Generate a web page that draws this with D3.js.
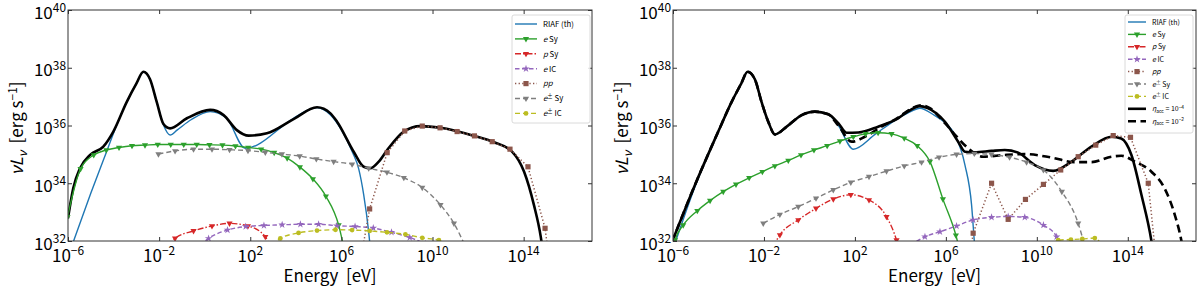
<!DOCTYPE html>
<html>
<head>
<meta charset="utf-8">
<script src="https://cdn.jsdelivr.net/npm/d3@7"></script>
<style>
  body { margin: 0; background: #fff; }
  svg { display: block; }
  text { font-family: "Noto Sans CJK JP", "DejaVu Sans", sans-serif; fill: #000; }
</style>
</head>
<body>
<svg id="fig" width="1200" height="288"></svg>
<script>
// tick exponents
const xTicks = [-6, -2, 2, 6, 10, 14];
const yTicks = [32, 34, 36, 38, 40];

// every series: [log10 E (eV), log10 nuL_nu (erg/s)]
// ---- left panel
const riafL = [[-5.8,31.9],[-5.0,33.65],[-4.4,34.9],[-3.86,36.02],[-3.42,36.82],[-3.0,37.45],[-2.69,37.86],[-2.4,37.6],[-2.1,36.8],[-1.8,36.0],[-1.52,35.67],[-1.2,35.85],[-0.6,36.2],[0.24,36.48],[0.96,36.25],[1.78,35.21],[3.9,36.25],[4.5,36.52],[4.93,36.62],[5.5,36.38],[6.0,35.85],[6.5,35.05],[6.76,34.5],[6.98,33.6],[7.2,32.3],[7.3,31.5]];
const totalL = [[-6.0,32.79],[-5.77,33.83],[-5.47,34.52],[-5.03,34.98],[-4.45,35.27],[-4.01,35.79],[-3.42,36.82],[-3.0,37.45],[-2.69,37.86],[-2.4,37.6],[-2.1,36.8],[-1.81,36.05],[-1.52,35.9],[-0.78,36.25],[0.24,36.54],[0.83,36.36],[1.41,35.84],[1.93,35.65],[2.73,35.73],[3.9,36.22],[4.93,36.63],[5.52,36.42],[5.81,36.13],[6.54,35.09],[6.98,34.57],[7.27,34.52],[7.64,34.75],[8.01,35.15],[8.74,35.79],[9.47,35.98],[10.35,35.92],[11.82,35.64],[12.7,35.42],[13.5,35.09],[14.02,34.4],[14.45,33.25],[14.75,32.15],[14.85,31.6]];
const eSyL = [[-6.02,32.84],[-5.45,34.5],[-4.87,34.98],[-4.32,35.15],[-3.76,35.24],[-3.19,35.3],[-2.62,35.32],[-2.06,35.34],[-1.49,35.34],[-0.92,35.34],[-0.35,35.34],[0.21,35.33],[0.78,35.32],[1.35,35.29],[1.91,35.24],[2.48,35.18],[3.05,35.06],[3.62,34.87],[4.18,34.56],[4.75,34.15],[5.32,33.55],[5.88,32.55],[6.1,31.8]];
const pSyL = [[-1.55,31.8],[-1.3,32.09],[-0.49,32.35],[0.32,32.52],[1.09,32.61],[1.9,32.52],[2.66,32.15],[2.85,31.8]];
const eICL = [[-0.2,31.85],[0.17,32.09],[1.0,32.38],[1.8,32.5],[2.6,32.54],[3.4,32.56],[4.2,32.58],[5.0,32.58],[5.8,32.53],[6.6,32.5],[7.4,32.45],[8.2,32.3],[9.0,32.12],[9.7,31.9]];
const ppL = [[6.9,31.6],[7.24,33.11],[8.01,35.06],[8.78,35.81],[9.55,35.98],[10.33,35.92],[11.08,35.79],[11.84,35.64],[12.62,35.44],[13.4,35.18],[14.19,34.57],[14.94,32.44],[15.08,31.6]];
const pairSyL = [[-2.03,35.01],[-1.3,35.12],[-0.49,35.18],[0.32,35.18],[1.09,35.16],[1.9,35.13],[2.66,35.07],[3.39,35.01],[4.17,34.94],[4.9,34.84],[5.66,34.75],[6.47,34.66],[7.2,34.52],[8.0,34.38],[8.74,34.19],[9.55,33.85],[10.35,33.25],[10.94,32.61],[11.45,31.8]];
const pairICL = [[2.95,31.85],[3.32,32.09],[4.12,32.28],[4.93,32.36],[5.74,32.39],[6.47,32.38],[7.24,32.35],[8.0,32.3],[8.81,32.23],[9.55,32.11],[10.28,32.03],[10.5,31.85]];

// ---- right panel
const riafR = [[-5.92,31.9],[-5.0,33.95],[-4.01,35.79],[-3.42,36.82],[-3.0,37.45],[-2.72,37.86],[-2.4,37.6],[-2.1,36.8],[-1.81,36.13],[-1.52,35.69],[-1.0,35.96],[-0.34,36.36],[0.24,36.48],[0.83,36.39],[1.27,36.0],[1.93,35.18],[2.9,35.7],[3.9,36.25],[4.5,36.5],[4.85,36.6],[5.5,36.35],[5.96,36.1],[6.4,35.67],[6.84,34.63],[7.13,33.25],[7.25,32.0],[7.3,31.5]];
const totalR = [[-6.05,31.95],[-5.03,33.95],[-4.01,35.79],[-3.42,36.82],[-3.0,37.45],[-2.72,37.86],[-2.4,37.6],[-2.1,36.8],[-1.81,36.13],[-1.52,35.69],[-1.0,35.96],[-0.34,36.36],[0.24,36.48],[0.83,36.39],[1.27,36.08],[1.63,35.75],[2.15,35.76],[3.02,35.96],[3.9,36.25],[4.4,36.52],[4.85,36.67],[5.2,36.6],[5.96,36.13],[6.54,35.44],[6.84,35.09],[7.27,35.07],[8.01,35.12],[8.59,35.15],[9.18,35.06],[9.91,34.63],[10.72,34.43],[11.53,34.75],[12.4,35.27],[13.3,35.61],[13.71,35.55],[14.16,34.98],[14.6,33.6],[15.04,32.0],[15.1,31.7]];
const totalDashR = [[-6.05,31.95],[-5.03,33.95],[-4.01,35.79],[-3.42,36.82],[-3.0,37.45],[-2.72,37.86],[-2.4,37.6],[-2.1,36.8],[-1.81,36.13],[-1.52,35.69],[-1.0,35.96],[-0.34,36.36],[0.24,36.48],[0.83,36.39],[1.27,36.0],[1.86,35.44],[2.44,35.61],[3.17,35.96],[3.9,36.27],[4.4,36.55],[4.9,36.7],[5.3,36.6],[5.96,36.08],[6.54,35.56],[6.98,35.21],[7.64,34.92],[8.59,34.98],[9.47,35.01],[10.64,34.89],[11.67,34.73],[12.4,34.73],[13.3,34.92],[13.72,34.95],[14.31,34.75],[15.04,34.4],[15.62,33.82],[16.07,32.9],[16.36,32.0],[16.45,31.6]];
const eSyR = [[-5.98,31.8],[-5.91,32.03],[-5.55,32.55],[-4.93,33.05],[-4.37,33.4],[-3.79,33.71],[-3.23,33.96],[-2.65,34.19],[-2.07,34.4],[-1.52,34.6],[-0.93,34.79],[-0.37,34.98],[0.2,35.15],[0.78,35.3],[1.34,35.46],[1.93,35.61],[2.47,35.71],[3.02,35.75],[3.61,35.71],[4.17,35.56],[4.74,35.3],[5.3,34.75],[5.87,33.45],[6.44,32.2],[6.6,31.7]];
const pSyR = [[-1.6,31.8],[-1.3,32.21],[-0.49,32.73],[0.29,33.13],[1.05,33.45],[1.82,33.6],[2.62,33.42],[3.39,32.84],[3.83,32.03],[3.95,31.7]];
const eICR = [[4.45,31.85],[5.08,32.15],[5.74,32.32],[6.47,32.52],[7.2,32.73],[8.01,32.82],[8.74,32.85],[9.47,32.82],[10.29,32.55],[10.87,32.15],[11.05,31.85]];
const ppR = [[7.1,31.7],[7.2,32.27],[8.01,34.0],[8.74,32.75],[9.5,33.44],[10.29,33.96],[11.05,34.46],[11.82,34.92],[12.59,35.32],[13.36,35.65],[14.12,35.59],[14.9,34.0],[15.2,31.7]];
const pairSyR = [[-2.03,32.61],[-1.3,32.92],[-0.49,33.19],[0.29,33.48],[1.05,33.77],[1.82,34.03],[2.62,34.23],[3.39,34.42],[4.17,34.6],[4.93,34.73],[5.7,34.9],[6.47,35.0],[7.25,35.03],[8.0,35.0],[8.8,34.9],[9.55,34.73],[10.29,34.46],[11.1,33.71],[11.82,32.61],[12.15,31.7]];
const pairICR = [[10.8,31.8],[10.94,32.03],[11.5,32.05],[12.0,32.07],[12.55,32.1],[12.9,31.8]];

// line styles (matplotlib tab10)
const STYLE = {
  riaf:      { color: '#1f77b4', width: 1.4 },
  total:     { color: '#000',    width: 2.6 },
  totalDash: { color: '#000',    width: 2.6, dash: '8,4.5' },
  eSy:       { color: '#2ca02c', width: 1.4, marker: 'down' },
  pSy:       { color: '#d62728', width: 1.4, marker: 'down', dash: '6,2,1.5,2' },
  eIC:       { color: '#9467bd', width: 1.4, marker: 'star', dash: '4.5,2.5' },
  pp:        { color: '#8c564b', width: 1.5, marker: 'square', dash: '1.3,2.3', linear: true },
  pairSy:    { color: '#7f7f7f', width: 1.4, marker: 'down', dash: '5,3' },
  pairIC:    { color: '#bcbd22', width: 1.4, marker: 'circle', dash: '5,3' }
};

const LABELS = {
  riaf:   [{ t: 'RIAF (th)' }],
  eSy:    [{ t: 'e', i: 1 }, { t: ' Sy' }],
  pSy:    [{ t: 'p', i: 1 }, { t: ' Sy' }],
  eIC:    [{ t: 'e', i: 1 }, { t: ' IC' }],
  pp:     [{ t: 'pp', i: 1 }],
  pairSy: [{ t: 'e', i: 1 }, { t: '±', sup: 1 }, { t: ' Sy' }],
  pairIC: [{ t: 'e', i: 1 }, { t: '±', sup: 1 }, { t: ' IC' }],
  total:  [{ t: 'η', i: 1 }, { t: 'acc', sub: 1 }, { t: ' = 10' }, { t: '−4', sup: 1 }],
  totalDash: [{ t: 'η', i: 1 }, { t: 'acc', sub: 1 }, { t: ' = 10' }, { t: '−2', sup: 1 }]
};

const svg = d3.select('#fig');

// writes text parts with italic / super / subscript runs
function rich(text, parts, size) {
  let off = 0;
  parts.forEach(p => {
    const target = p.sup ? -size * 0.38 : p.sub ? size * 0.22 : 0;
    text.append('tspan')
      .attr('dy', target - off)
      .attr('font-size', p.sup || p.sub ? size * 0.7 : size)
      .attr('font-style', p.i ? 'italic' : null)
      .text(p.t);
    off = target;
  });
}

function marker(type, sz) {
  if (type === 'down') return { path: d3.symbol(d3.symbolTriangle, sz * 0.55)(), rot: 180 };
  if (type === 'star') return { path: d3.symbol(d3.symbolStar, sz * 0.6)(), rot: 0 };
  if (type === 'square') return { path: d3.symbol(d3.symbolSquare, sz * 0.9)(), rot: 0 };
  return { path: d3.symbol(d3.symbolCircle, sz * 0.6)(), rot: 0 };
}

function drawPanel(cfg) {
  const { left, top, width, height, series, legend, id } = cfg;
  const x = d3.scaleLog().domain([1e-6, 1e17]).range([0, width]);
  const y = d3.scaleLog().domain([1e32, 1e40]).range([height, 0]);
  const g = svg.append('g').attr('transform', `translate(${left},${top})`);

  g.append('clipPath').attr('id', id).append('rect').attr('width', width).attr('height', height);
  const plot = g.append('g').attr('clip-path', `url(#${id})`);

  series.forEach(([key, data]) => {
    const st = STYLE[key];
    const line = d3.line()
      .x(d => x(10 ** d[0]))
      .y(d => y(10 ** d[1]))
      .curve(st.linear ? d3.curveLinear : d3.curveMonotoneX);
    plot.append('path')
      .attr('d', line(data))
      .attr('fill', 'none')
      .attr('stroke', st.color)
      .attr('stroke-width', st.width)
      .attr('stroke-dasharray', st.dash || null)
      .attr('stroke-linejoin', 'round');
    if (st.marker) {
      const m = marker(st.marker, 30);
      plot.append('g').selectAll('path')
        .data(data)
        .join('path')
        .attr('d', m.path)
        .attr('fill', st.color)
        .attr('transform', d => `translate(${x(10 ** d[0])},${y(10 ** d[1])}) rotate(${m.rot})`);
    }
  });

  // axes, ticks pointing inward on all sides
  const xv = xTicks.map(e => 10 ** e);
  const yv = yTicks.map(e => 10 ** e);
  const styleAxis = a => {
    a.select('.domain').remove();
    a.selectAll('.tick line').attr('stroke', '#333');
  };
  g.append('g').attr('transform', `translate(0,${height})`)
    .call(d3.axisBottom(x).tickValues(xv).tickSize(-4).tickFormat('')).call(styleAxis);
  g.append('g')
    .call(d3.axisTop(x).tickValues(xv).tickSize(-4).tickFormat('')).call(styleAxis);
  g.append('g')
    .call(d3.axisLeft(y).tickValues(yv).tickSize(-4).tickFormat('')).call(styleAxis);
  g.append('g').attr('transform', `translate(${width},0)`)
    .call(d3.axisRight(y).tickValues(yv).tickSize(-4).tickFormat('')).call(styleAxis);

  g.append('rect').attr('width', width).attr('height', height)
    .attr('fill', 'none').attr('stroke', '#333').attr('stroke-width', 1);

  const fs = 17;
  xTicks.forEach(e => {
    const t = g.append('text').attr('x', x(10 ** e)).attr('y', height + 20.5)
      .attr('text-anchor', 'middle');
    rich(t, [{ t: '10' }, { t: e < 0 ? '−' + (-e) : String(e), sup: 1 }], fs);
  });
  yTicks.forEach(e => {
    const t = g.append('text').attr('x', -2).attr('y', y(10 ** e) + 8.5)
      .attr('text-anchor', 'end');
    rich(t, [{ t: '10' }, { t: String(e), sup: 1 }], fs);
  });

  const xl = g.append('text').attr('x', width / 2).attr('y', height + 41)
    .attr('text-anchor', 'middle');
  rich(xl, [{ t: 'Energy\u00a0\u00a0[eV]' }], 17);

  const yl = g.append('text')
    .attr('transform', `translate(-45,${height / 2 + 3}) rotate(-90)`)
    .attr('text-anchor', 'middle');
  rich(yl, [{ t: 'ν', i: 1 }, { t: 'L', i: 1 }, { t: 'ν', i: 1, sub: 1 },
            { t: '\u00a0\u00a0[erg s' }, { t: '−1', sup: 1 }, { t: ']' }], 17);

  // legend
  const L = legend;
  const lg = g.append('g').attr('transform', `translate(${L.x},${L.y})`);
  lg.append('rect').attr('width', L.w).attr('height', L.h).attr('rx', 2)
    .attr('fill', '#fff').attr('fill-opacity', 0.85)
    .attr('stroke', '#d0d0d0').attr('stroke-width', 0.8);
  L.keys.forEach((key, i) => {
    const st = STYLE[key];
    const cy = L.pad + i * L.step;
    lg.append('line').attr('x1', 3).attr('x2', 3 + L.hl).attr('y1', cy).attr('y2', cy)
      .attr('stroke', st.color).attr('stroke-width', st.width)
      .attr('stroke-dasharray', st.dash || null);
    if (st.marker) {
      const m = marker(st.marker, 30);
      lg.append('path').attr('d', m.path).attr('fill', st.color)
        .attr('transform', `translate(${3 + L.hl / 2},${cy}) rotate(${m.rot})`);
    }
    const t = lg.append('text').attr('x', L.hl + 9).attr('y', cy + L.fs * 0.36);
    rich(t, LABELS[key], L.fs);
  });
}

const compKeys = ['riaf', 'eSy', 'pSy', 'eIC', 'pp', 'pairSy', 'pairIC'];

drawPanel({
  id: 'clipL', left: 68, top: 10, width: 524, height: 231,
  series: [['riaf', riafL], ['total', totalL], ['eSy', eSyL], ['pSy', pSyL], ['eIC', eICL],
           ['pp', ppL], ['pairSy', pairSyL], ['pairIC', pairICL]],
  legend: { x: 444, y: 5, w: 78, h: 108, pad: 9, step: 14.9, hl: 22, fs: 7.8, keys: compKeys }
});

drawPanel({
  id: 'clipR', left: 673, top: 10, width: 523, height: 231,
  series: [['riaf', riafR], ['totalDash', totalDashR], ['total', totalR], ['eSy', eSyR], ['pSy', pSyR],
           ['eIC', eICR], ['pp', ppR], ['pairSy', pairSyR], ['pairIC', pairICR]],
  legend: { x: 452, y: 5, w: 68, h: 118, pad: 7, step: 12.4, hl: 18, fs: 7, keys: compKeys.concat(['total', 'totalDash']) }
});
</script>
</body>
</html>
